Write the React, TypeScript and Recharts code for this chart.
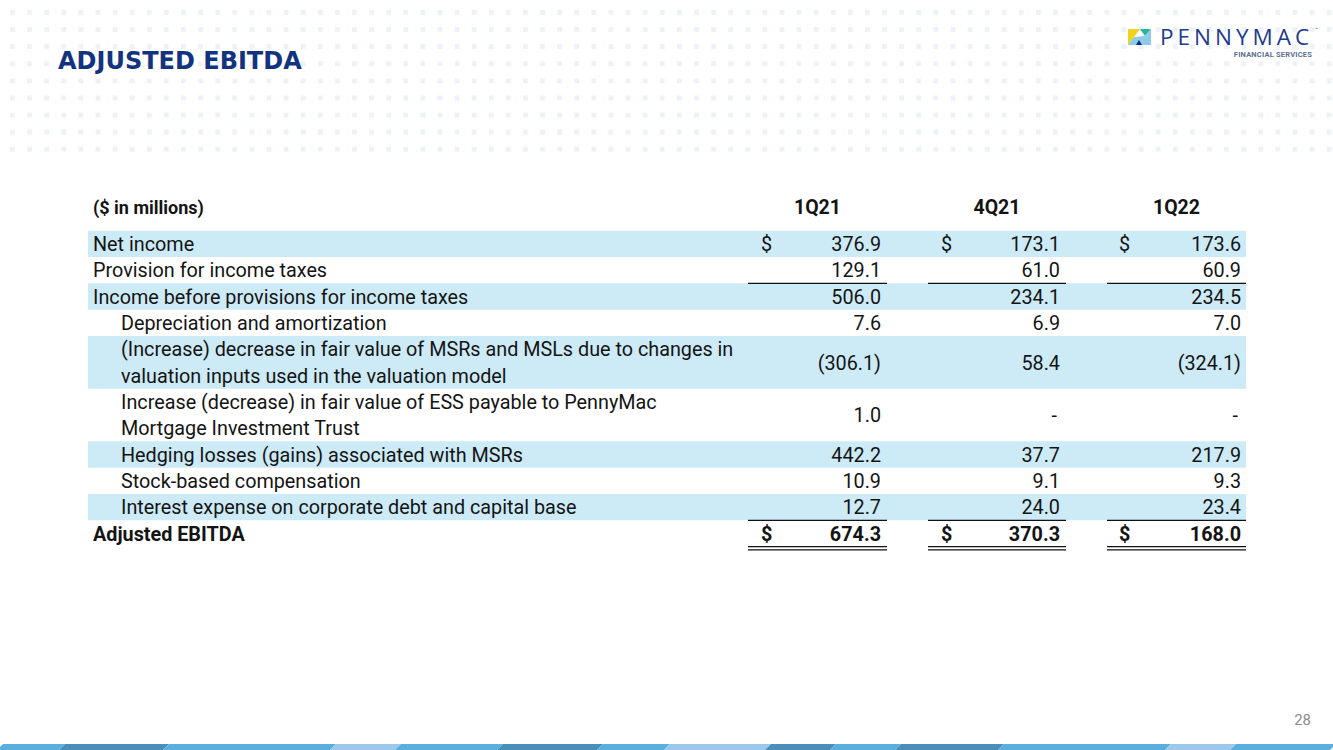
import React from 'react';
import { ComposedChart, XAxis, YAxis, Scatter, ReferenceArea, ReferenceLine } from 'recharts';

const periods = ['1Q21', '4Q21', '1Q22'];

const rowLabels: string[][] = [
  ['Net income'],
  ['Provision for income taxes'],
  ['Income before provisions for income taxes'],
  ['Depreciation and amortization'],
  ['(Increase) decrease in fair value of MSRs and MSLs due to changes in', 'valuation inputs used in the valuation model'],
  ['Increase (decrease) in fair value of ESS payable to PennyMac', 'Mortgage Investment Trust'],
  ['Hedging losses (gains) associated with MSRs'],
  ['Stock-based compensation'],
  ['Interest expense on corporate debt and capital base'],
  ['Adjusted EBITDA'],
];

const values1Q21: (number | null)[] = [376.9, 129.1, 506.0, 7.6, -306.1, 1.0, 442.2, 10.9, 12.7, 674.3];
const values4Q21: (number | null)[] = [173.1, 61.0, 234.1, 6.9, 58.4, null, 37.7, 9.1, 24.0, 370.3];
const values1Q22: (number | null)[] = [173.6, 60.9, 234.5, 7.0, -324.1, null, 217.9, 9.3, 23.4, 168.0];

const rowIndented = [false, false, false, true, true, true, true, true, true, false];
const rowShaded = [true, false, true, false, true, false, true, false, true, false];
const rowDollar = [true, false, false, false, false, false, false, false, false, true];
const rowBold = [false, false, false, false, false, false, false, false, false, true];
const underlineAfter = [1, 8];

// table layout: x in px from the table's left edge, y in row slots
const TABLE_W = 1158;
const labelX = 5;
const indentX = 33;
const colDollar = [673, 853, 1031];
const colRight = [793, 972, 1153];
const colLineFrom = [660, 840, 1019];
const colLineTo = [799, 978, 1158];
const headerSlot = -0.9;
const BODY_SIZE = 19.8;

const allValues = [values1Q21, values4Q21, values1Q22];
const fmt = (v: number | null) => (v === null ? '-' : v < 0 ? `(${Math.abs(v).toFixed(1)})` : v.toFixed(1));

const rowStarts: number[] = [];
rowLabels.reduce((acc, lines) => {
  rowStarts.push(acc);
  return acc + lines.length;
}, 0);
const totalSlots = rowLabels.reduce((a, l) => a + l.length, 0);

type CellItem = { x: number; y: number; text: string; anchor: string; weight: number; size: number };
const cells: CellItem[] = [];
cells.push({ x: labelX, y: headerSlot, text: '($ in millions)', anchor: 'start', weight: 700, size: 18 });
periods.forEach((p, i) => {
  cells.push({ x: (colLineFrom[i] + colLineTo[i]) / 2, y: headerSlot, text: p, anchor: 'middle', weight: 700, size: 19.5 });
});
rowLabels.forEach((lines, r) => {
  const start = rowStarts[r];
  const mid = start + lines.length / 2;
  const weight = rowBold[r] ? 700 : 400;
  lines.forEach((line, li) => {
    cells.push({ x: rowIndented[r] ? indentX : labelX, y: start + li + 0.5, text: line, anchor: 'start', weight, size: BODY_SIZE });
  });
  allValues.forEach((vals, c) => {
    const v = vals[r];
    cells.push({ x: v === null ? colRight[c] - 3 : colRight[c], y: mid, text: fmt(v), anchor: 'end', weight, size: BODY_SIZE });
    if (rowDollar[r]) cells.push({ x: colDollar[c], y: mid, text: '$', anchor: 'start', weight, size: BODY_SIZE });
  });
});

const CellText = (props: any) => {
  const p = props.payload as CellItem;
  return (
    <text
      x={props.cx}
      y={props.cy + 0.8}
      textAnchor={p.anchor as any}
      dominantBaseline="central"
      fontFamily="Roboto, sans-serif"
      fontSize={p.size}
      fontWeight={p.weight}
      fill="#141414"
    >
      {p.text}
    </text>
  );
};

const stripe: [number, number, string][] = [
  [0, 62, '#5aafdf'], [62, 166, '#4a8fba'], [166, 333, '#5aafdf'], [333, 398, '#9cc8ea'],
  [398, 500, '#5aafdf'], [500, 600, '#4a8fba'], [600, 667, '#5aafdf'], [667, 768, '#9cc8ea'],
  [768, 833, '#4a8fba'], [833, 898, '#5aafdf'], [898, 1001, '#4a8fba'], [1001, 1168, '#5aafdf'],
  [1168, 1233, '#9cc8ea'], [1233, 1333, '#5aafdf'],
];

const Background = () => (
  <svg width={1333} height={750} style={{ position: 'absolute', left: 0, top: 0 }}>
    <defs>
      <pattern id="dots" x={10} y={10} width={17.1} height={17.1} patternUnits="userSpaceOnUse">
        <rect x={0} y={0} width={5} height={5} fill="#eef2f8" />
      </pattern>
    </defs>
    <rect x={0} y={0} width={1333} height={156} fill="url(#dots)" />
    {stripe.map(([a, b, c], i) => (
      <polygon key={i} points={`${a + 3},744 ${b + 3},744 ${b - 3},750 ${a - 3},750`} fill={c} />
    ))}
    <text x={1311} y={725} textAnchor="end" fontFamily="Roboto, sans-serif" fontSize={15} fill="#8c8c8c">28</text>
    {/* logo */}
    <polygon points="1128,29 1140,29 1134,37 1128,45" fill="#f2d21b" />
    <polygon points="1140,29 1151,29 1145,36" fill="#2bb5a0" />
    <polygon points="1134,37 1145,36 1151,29 1151,45 1128,45" fill="#8ccbea" />
    <polygon points="1136,45 1139,40 1142,45" fill="#0d2d7b" />
    <text x={1160} y={45} fontFamily="'Open Sans', sans-serif" fontSize={22.5} fill="#1c3b8c" letterSpacing={4}>PENNYMAC</text>
    <text x={1315} y={31} fontFamily="Roboto, sans-serif" fontSize={5} fill="#1c3b8c">™</text>
    <text x={1312} y={57} textAnchor="end" fontFamily="Roboto, sans-serif" fontWeight={700} fontSize={7.5} fill="#5b6f92" letterSpacing={0.2}>FINANCIAL SERVICES</text>
  </svg>
);

export default function App() {
  return (
    <div style={{ position: 'absolute', left: 0, top: 0, width: 1333, height: 750, background: '#fff', overflow: 'hidden' }}>
      <Background />
      <svg width={400} height={90} style={{ position: 'absolute', left: 0, top: 0 }}>
        <text x={58} y={69} fontFamily="'DejaVu Sans', sans-serif" fontWeight={700} fontSize={24} fill="#12337f">
          ADJUSTED EBITDA
        </text>
      </svg>
      <div style={{ position: 'absolute', left: 88, top: 178 }}>
        <ComposedChart width={TABLE_W} height={395} data={cells} margin={{ top: 0, right: 0, bottom: 0, left: 0 }}>
          <XAxis type="number" dataKey="x" domain={[0, TABLE_W]} hide allowDataOverflow />
          <YAxis type="number" dataKey="y" domain={[-2, totalSlots + 1]} reversed hide allowDataOverflow />
          {rowLabels.map((_, r) =>
            rowShaded[r] ? (
              <ReferenceArea
                key={`band-${r}`}
                y1={rowStarts[r]}
                y2={rowStarts[r] + rowLabels[r].length}
                fill="#cdeaf7"
                fillOpacity={1}
                stroke="none"
              />
            ) : null
          )}
          {underlineAfter.flatMap((r) =>
            colLineFrom.map((from, c) => (
              <ReferenceLine
                key={`ul-${r}-${c}`}
                segment={[
                  { x: from, y: rowStarts[r] + rowLabels[r].length },
                  { x: colLineTo[c], y: rowStarts[r] + rowLabels[r].length },
                ]}
                stroke="#111"
                strokeWidth={1.2}
              />
            ))
          )}
          {[0, 0.12].flatMap((off) =>
            colLineFrom.map((from, c) => (
              <ReferenceLine
                key={`dl-${off}-${c}`}
                segment={[
                  { x: from, y: totalSlots + off },
                  { x: colLineTo[c], y: totalSlots + off },
                ]}
                stroke="#111"
                strokeWidth={1.2}
              />
            ))
          )}
          <Scatter data={cells} dataKey="y" shape={CellText} isAnimationActive={false} />
        </ComposedChart>
      </div>
    </div>
  );
}
